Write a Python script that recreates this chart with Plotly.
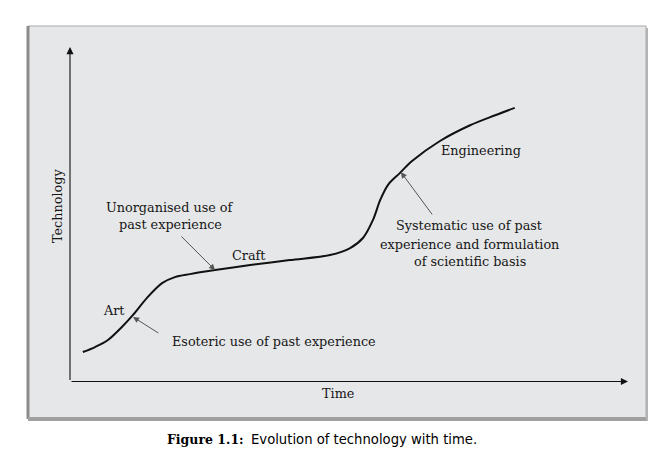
import plotly.graph_objects as go

# ---- data (arbitrary units: time 0-100, technology 0-100) ----
time_vals = [2.3, 4.5, 6.8, 9.3, 11.3, 13.8, 16.5, 18.8, 21.5, 26.0, 32.3, 39.4,
             46.6, 50.2, 52.5, 54.3, 55.6, 57.0, 59.1, 61.3, 66.3, 71.7, 76.2, 79.7]
tech_vals = [8.8, 10.3, 12.4, 16.3, 19.9, 25.0, 29.4, 31.2, 32.1, 33.3, 34.8, 36.3,
             37.8, 39.9, 42.9, 48.3, 54.3, 58.8, 62.3, 65.9, 71.9, 76.6, 79.6, 81.8]

# pointer arrows: (tail_x, tail_y, tip_x, tip_y) in data units
pointer_labels = ["Unorganised", "Esoteric", "Systematic"]
pointer_tail_x = [19.7, 16.1, 65.1]
pointer_tail_y = [43.8, 14.2, 49.5]
pointer_tip_x = [26.0, 11.3, 59.3]
pointer_tip_y = [33.3, 19.3, 62.6]

x_title = "Time"
y_title = "Technology"
caption_bold = "Figure 1.1:"
caption_rest = "Evolution of technology with time."

W, H = 669, 461
SERIF = "DejaVu Serif"
TXT = "#161616"


def px(x):
    return x / W


def py(y):
    return 1 - y / H


fig = go.Figure()
fig.add_trace(go.Scatter(x=time_vals, y=tech_vals, mode="lines",
                         line=dict(color="#111111", width=2, shape="spline", smoothing=0.9),
                         hoverinfo="skip", showlegend=False))

shapes = [
    # panel background
    dict(type="rect", xref="paper", yref="paper", x0=px(28), x1=px(646), y0=py(418), y1=py(26),
         fillcolor="#e6e7e8", line=dict(color="#a9a9a9", width=1), layer="below"),
    # left dark edge
    dict(type="rect", xref="paper", yref="paper", x0=px(26.5), x1=px(29.5), y0=py(419), y1=py(26),
         fillcolor="#8c8c8c", line=dict(width=0), layer="below"),
    # bottom shadow
    dict(type="rect", xref="paper", yref="paper", x0=px(28), x1=px(648), y0=py(421), y1=py(417),
         fillcolor="#a0a0a0", line=dict(width=0), layer="below"),
    # right shadow
    dict(type="rect", xref="paper", yref="paper", x0=px(646), x1=px(648), y0=py(421), y1=py(28),
         fillcolor="#b4b4b4", line=dict(width=0), layer="below"),
]

ann = []
# axes arrows
ann.append(dict(x=0, y=100, ax=0, ay=0, xref="x", yref="y", axref="x", ayref="y", text="",
                showarrow=True, arrowhead=2, arrowsize=1.3, arrowwidth=1.1, arrowcolor="#111111",
                standoff=0, startstandoff=0))
ann.append(dict(x=100, y=0, ax=0, ay=0, xref="x", yref="y", axref="x", ayref="y", text="",
                showarrow=True, arrowhead=2, arrowsize=1.3, arrowwidth=1.1, arrowcolor="#111111",
                standoff=0, startstandoff=0))
# pointer arrows
for tx, ty, hx, hy in zip(pointer_tail_x, pointer_tail_y, pointer_tip_x, pointer_tip_y):
    ann.append(dict(x=hx, y=hy, ax=tx, ay=ty, xref="x", yref="y", axref="x", ayref="y", text="",
                    showarrow=True, arrowhead=2, arrowsize=1.2, arrowwidth=1, arrowcolor="#555555",
                    standoff=0, startstandoff=0))


def label(text, x, y, size=12.8, xanchor="center", angle=0, family=SERIF, color=TXT):
    ann.append(dict(text=text, x=px(x), y=py(y), xref="paper", yref="paper", showarrow=False,
                    xanchor=xanchor, yanchor="middle", textangle=angle,
                    font=dict(family=family, size=size, color=color)))


label("Art", 114, 310)
label("Craft", 249, 255)
label("Engineering", 481, 150)
label("Unorganised use of", 170, 207)
label("past experience", 170, 224)
label("Esoteric use of past experience", 170, 341, xanchor="left")
label("Systematic use of past", 470, 226)
label("experience and formulation", 470, 244)
label("of scientific basis", 470, 261)
label(x_title, 338, 393)
label(y_title, 57, 206, angle=-90)
label("<b>" + caption_bold + "</b>", 245.5, 439, size=12.5, xanchor="right", color="#000000")
label(caption_rest, 248.5, 439, size=13.2, xanchor="left", family="DejaVu Sans", color="#000000")

fig.update_layout(
    width=W, height=H, margin=dict(l=0, r=0, t=0, b=0),
    paper_bgcolor="white", plot_bgcolor="rgba(0,0,0,0)",
    xaxis=dict(domain=[70 / W, 628 / W], range=[0, 100], visible=False, fixedrange=True),
    yaxis=dict(domain=[1 - 381.5 / H, 1 - 47 / H], range=[0, 100], visible=False, fixedrange=True),
    shapes=shapes, annotations=ann, showlegend=False,
)
fig.write_html("out.html")
